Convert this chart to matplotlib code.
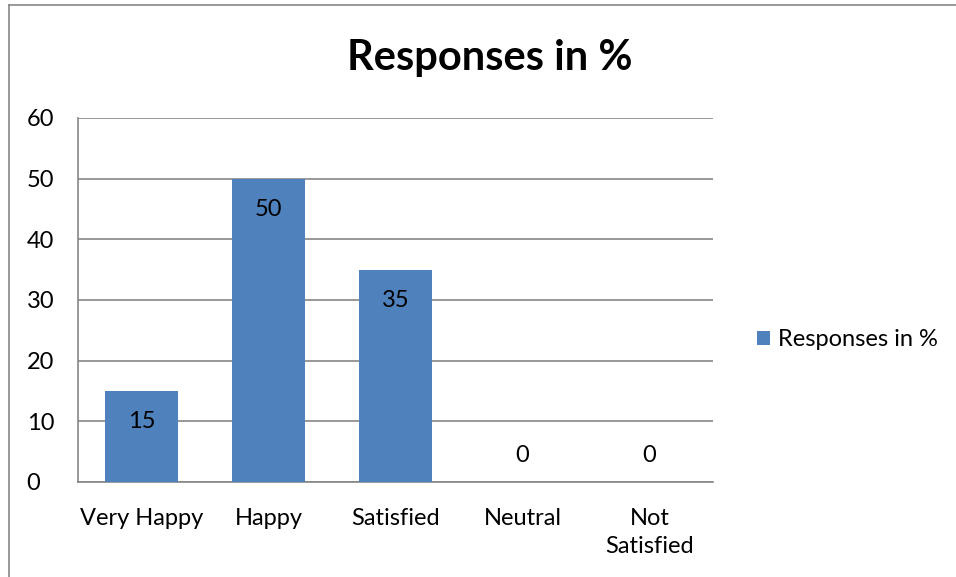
import matplotlib.pyplot as plt
from matplotlib.lines import Line2D
import numpy as np

plt.rcParams['font.family'] = ['Lato', 'DejaVu Sans']

categories = ['Very Happy', 'Happy', 'Satisfied', 'Neutral', 'Not\nSatisfied']
values = [15, 50, 35, 0, 0]
series_name = 'Responses in %'

W, H = 956, 577
fig = plt.figure(figsize=(W / 100, H / 100), dpi=100)
ax = fig.add_axes([78 / W, 1 - 482 / H, (713 - 78) / W, (482 - 118) / H])

x = np.arange(len(categories))
bars = ax.bar(x, values, width=0.567, color='#4f81bd', label=series_name, zorder=3)

# data labels inside the top of the bars, above the axis for zero values
for xi, v in zip(x, values):
    if v > 0:
        ax.annotate(str(v), xy=(xi, v), xytext=(0, -22), textcoords='offset points',
                    ha='center', va='center', fontsize=17, color='black', zorder=4)
    else:
        ax.annotate(str(v), xy=(xi, v), xytext=(0, 19), textcoords='offset points',
                    ha='center', va='center', fontsize=17, color='black', zorder=4)

ax.set_xlim(-0.5, len(categories) - 0.5)
ax.set_ylim(0, 60)
ax.set_yticks(range(0, 61, 10))
ax.set_xticks(x)
ax.set_xticklabels(categories, fontsize=17, va='top', linespacing=1.4)
ax.tick_params(axis='y', labelsize=17, length=0, pad=37)
ax.tick_params(axis='x', length=0, pad=19)
for lab in ax.get_yticklabels():
    lab.set_horizontalalignment('left')

ax.grid(axis='y', color='#868686', linewidth=1.2, zorder=0)
ax.spines['top'].set_visible(False)
ax.spines['right'].set_visible(False)
for s in ['left', 'bottom']:
    ax.spines[s].set_color('#868686')
    ax.spines[s].set_linewidth(1.2)

fig.text(490 / W, 1 - 58 / H, 'Responses in %', ha='center', va='center',
         fontsize=30, fontweight='bold')

ax.legend(loc='center left', bbox_to_anchor=(757 / W, 1 - 340 / H),
          bbox_transform=fig.transFigure, frameon=False, fontsize=17,
          handlelength=0.55, handleheight=0.55, handletextpad=0.35,
          borderpad=0, borderaxespad=0)

# outer chart frame (left and top edges visible)
fig.add_artist(Line2D([9 / W, 9 / W], [0, 1 - 5 / H], transform=fig.transFigure,
                      color='#868686', linewidth=1.2))
fig.add_artist(Line2D([9 / W, 1], [1 - 5 / H, 1 - 5 / H], transform=fig.transFigure,
                      color='#868686', linewidth=1.2))

fig.savefig('out.png', dpi=100)
